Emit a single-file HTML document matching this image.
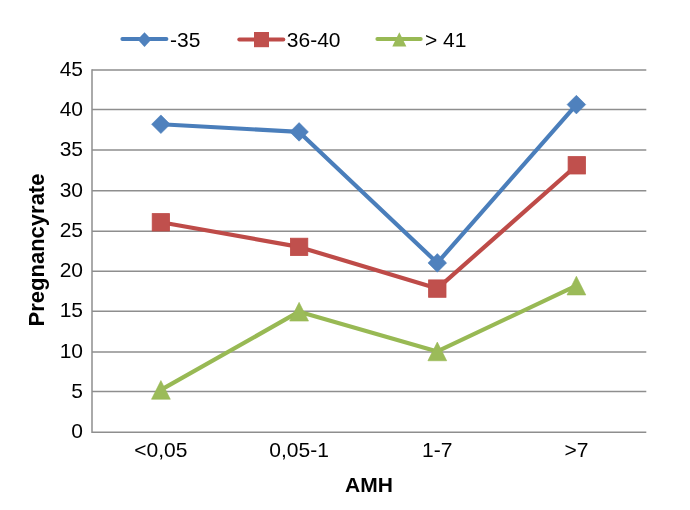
<!DOCTYPE html>
<html>
<head>
<meta charset="utf-8">
<style>
html,body{margin:0;padding:0;background:#fff;}
body{width:690px;height:510px;overflow:hidden;}
svg{display:block;will-change:transform;}
text{font-family:"Liberation Sans",Arial,sans-serif;fill:#000;}
.lbl{font-size:21px;}
.ttl{font-size:21px;font-weight:bold;}
</style>
</head>
<body>
<svg width="690" height="510" viewBox="0 0 690 510">
<rect x="0" y="0" width="690" height="510" fill="#fff"/>
<!-- gridlines -->
<g stroke="#8e8e8e" stroke-width="1.5" fill="none">
<line x1="92" y1="70.00" x2="646.3" y2="70.00"/>
<line x1="92" y1="109.45" x2="646.3" y2="109.45"/>
<line x1="92" y1="150.00" x2="646.3" y2="150.00"/>
<line x1="92" y1="190.75" x2="646.3" y2="190.75"/>
<line x1="92" y1="231.35" x2="646.3" y2="231.35"/>
<line x1="92" y1="271.15" x2="646.3" y2="271.15"/>
<line x1="92" y1="311.35" x2="646.3" y2="311.35"/>
<line x1="92" y1="352.00" x2="646.3" y2="352.00"/>
<line x1="92" y1="391.45" x2="646.3" y2="391.45"/>
<line x1="92" y1="432.20" x2="646.3" y2="432.20"/>
<line x1="92" y1="69.3" x2="92" y2="432.9"/>
</g>
<!-- y labels -->
<g class="lbl" text-anchor="end">
<text x="83" y="75.8">45</text>
<text x="83" y="116.0">40</text>
<text x="83" y="156.3">35</text>
<text x="83" y="196.5">30</text>
<text x="83" y="236.8">25</text>
<text x="83" y="277.0">20</text>
<text x="83" y="317.3">15</text>
<text x="83" y="357.5">10</text>
<text x="83" y="397.8">5</text>
<text x="83" y="438.0">0</text>
</g>
<!-- x labels -->
<g class="lbl" text-anchor="middle">
<text x="160.9" y="457">&lt;0,05</text>
<text x="299.1" y="457">0,05-1</text>
<text x="437.3" y="457">1-7</text>
<text x="576.4" y="457">&gt;7</text>
</g>
<!-- axis titles -->
<text class="ttl" x="368.9" y="492" text-anchor="middle">AMH</text>
<text class="ttl" style="font-size:22px" transform="translate(44.3,250) rotate(-90)" text-anchor="middle">Pregnancyrate</text>

<!-- series: blue -->
<polyline points="160.9,124.25 299.1,131.90 437.3,262.90 576.4,104.60" fill="none" stroke="#4A7EBB" stroke-width="4.2" stroke-linejoin="round" stroke-linecap="round"/>
<g fill="#4F81BD" stroke="#4A7EBB" stroke-width="0.6">
<polygon points="160.90,114.95 170.20,124.25 160.90,133.55 151.60,124.25"/>
<polygon points="299.10,122.60 308.40,131.90 299.10,141.20 289.80,131.90"/>
<polygon points="437.30,253.60 446.60,262.90 437.30,272.20 428.00,262.90"/>
<polygon points="576.40,95.30 585.70,104.60 576.40,113.90 567.10,104.60"/>
</g>
<!-- series: red -->
<polyline points="160.9,222.30 299.1,246.90 437.3,288.60 576.8,165.30" fill="none" stroke="#BE4B48" stroke-width="4.2" stroke-linejoin="round" stroke-linecap="round"/>
<g fill="#C0504D" stroke="#BE4B48" stroke-width="0.8">
<rect x="152.20" y="213.60" width="17.4" height="17.4"/>
<rect x="290.40" y="238.20" width="17.4" height="17.4"/>
<rect x="428.60" y="279.90" width="17.4" height="17.4"/>
<rect x="568.10" y="156.60" width="17.4" height="17.4"/>
</g>
<!-- series: green -->
<polyline points="160.9,389.90 299.1,311.70 437.3,351.40 576.4,285.60" fill="none" stroke="#98B954" stroke-width="4.2" stroke-linejoin="round" stroke-linecap="round"/>
<g fill="#9BBB59" stroke="#98B954" stroke-width="0.6">
<polygon points="160.90,380.55 170.30,399.25 151.50,399.25"/>
<polygon points="299.10,302.35 308.50,321.05 289.70,321.05"/>
<polygon points="437.30,342.05 446.70,360.75 427.90,360.75"/>
<polygon points="576.40,276.25 585.80,294.95 567.00,294.95"/>
</g>

<!-- legend -->
<line x1="122.4" y1="39.1" x2="166.4" y2="39.1" stroke="#4A7EBB" stroke-width="4" stroke-linecap="round"/>
<polygon points="144.5,32.2 151.4,39.6 144.5,47 137.6,39.6" fill="#4F81BD"/>
<text class="lbl" x="170" y="46.5">-35</text>
<line x1="239.3" y1="39.5" x2="283.3" y2="39.5" stroke="#BE4B48" stroke-width="4" stroke-linecap="round"/>
<rect x="254" y="32" width="15" height="15.2" fill="#C0504D"/>
<text class="lbl" x="286.8" y="46.5">36-40</text>
<line x1="377.4" y1="39.1" x2="420.7" y2="39.1" stroke="#98B954" stroke-width="4" stroke-linecap="round"/>
<polygon points="399.3,32.2 406.4,46.6 392.3,46.6" fill="#9BBB59"/>
<text class="lbl" x="424.9" y="46.5">&gt; 41</text>
</svg>
</body>
</html>
